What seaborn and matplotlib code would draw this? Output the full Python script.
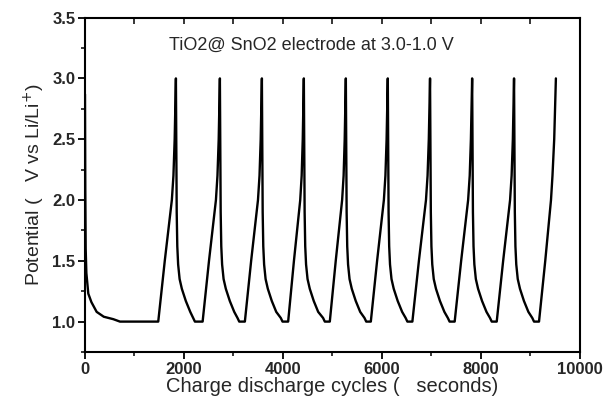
import numpy as np
import pandas as pd
import matplotlib
matplotlib.use("Agg")
import matplotlib.pyplot as plt
import seaborn as sns

# ---- data (time in s, potential in V) ----
first_discharge_t = [0, 6, 14, 28, 67, 130, 236, 380, 572, 707, 1481]
first_discharge_v = [2.87, 2.1, 1.6, 1.4, 1.23, 1.16, 1.08, 1.04, 1.02, 1.0, 1.0]

charge_v = [1.0, 1.5, 2.0, 2.2, 2.5, 3.0]
charge_t = [
    [1481, 1613, 1756, 1788, 1813, 1838],
    [2378, 2507, 2647, 2678, 2703, 2727],
    [3232, 3359, 3497, 3528, 3552, 3576],
    [4107, 4224, 4351, 4380, 4402, 4424],
    [4949, 5069, 5198, 5228, 5250, 5273],
    [5778, 5905, 6042, 6073, 6097, 6121],
    [6618, 6750, 6893, 6925, 6950, 6975],
    [7473, 7604, 7745, 7777, 7801, 7826],
    [8323, 8453, 8593, 8624, 8649, 8673],
    [9178, 9304, 9420, 9450, 9485, 9519],
]

discharge_v = [2.4, 1.9, 1.62, 1.47, 1.35, 1.27, 1.17, 1.08, 1.03, 1.0, 1.0]
discharge_t = [
    [1846, 1854, 1866, 1883, 1913, 1958, 2038, 2128, 2187, 2222, 2378],
    [2735, 2743, 2755, 2772, 2802, 2847, 2927, 3017, 3083, 3118, 3232],
    [3584, 3592, 3604, 3621, 3651, 3696, 3776, 3866, 3958, 3993, 4107],
    [4432, 4440, 4452, 4469, 4499, 4544, 4624, 4714, 4813, 4848, 4949],
    [5281, 5289, 5301, 5318, 5348, 5393, 5473, 5563, 5650, 5685, 5778],
    [6129, 6137, 6149, 6166, 6196, 6241, 6321, 6411, 6482, 6517, 6618],
    [6983, 6991, 7003, 7020, 7050, 7095, 7175, 7265, 7335, 7370, 7473],
    [7834, 7842, 7854, 7871, 7901, 7946, 8026, 8116, 8187, 8222, 8323],
    [8681, 8689, 8701, 8718, 8748, 8793, 8873, 8963, 9042, 9077, 9178],
]

x_ticks = [0, 2000, 4000, 6000, 8000, 10000]
y_ticks = [1.0, 1.5, 2.0, 2.5, 3.0, 3.5]

# ---- assemble the single continuous trace ----
t_all = list(first_discharge_t)
v_all = list(first_discharge_v)
for i, ct in enumerate(charge_t):
    t_all += ct[1:]
    v_all += charge_v[1:]
    if i < len(discharge_t):
        t_all += discharge_t[i]
        v_all += discharge_v
df = pd.DataFrame({"t": t_all, "v": v_all})

sns.set_style("ticks")
plt.rcParams["font.family"] = ["Liberation Sans", "DejaVu Sans"]

fig = plt.figure(figsize=(6.07, 4.00), dpi=100)
ax = fig.add_axes([0.140, 0.12, 0.815, 0.836])

sns.lineplot(data=df, x="t", y="v", sort=False, estimator=None,
             color="black", linewidth=1.7, ax=ax)

ax.set_xlim(0, 10000)
ax.set_ylim(0.75, 3.5)
ax.set_xticks(x_ticks)
ax.set_xticklabels([str(v) for v in x_ticks], fontweight="bold", fontsize=12)
ax.set_xticks([1000, 3000, 5000, 7000, 9000], minor=True)
ax.set_yticks(y_ticks)
ax.set_yticklabels([f"{v:.1f}" for v in y_ticks], fontweight="bold", fontsize=12)
ax.set_yticks([0.75, 1.25, 1.75, 2.25, 2.75, 3.25], minor=True)

ax.tick_params(which="major", direction="out", length=5, width=1.3, color="black", pad=2)
ax.tick_params(which="minor", direction="out", length=3, width=1.1, color="black")

for s in ax.spines.values():
    s.set_color("black")
    s.set_linewidth(1.5)

top = ax.secondary_xaxis("top")
top.set_xticks(list(range(1000, 10000, 1000)))
top.tick_params(direction="in", length=4, width=1.1, labeltop=False, color="black")
top.spines["top"].set_visible(False)

ax.set_xlabel("Charge discharge cycles (   seconds)", fontsize=14.5, labelpad=0)
ax.set_ylabel("Potential (   V vs Li/Li$^{+}$)", fontsize=14, labelpad=4)
ax.text(0.457, 0.917, "TiO2@ SnO2 electrode at 3.0-1.0 V", transform=ax.transAxes,
        ha="center", va="center", fontsize=13)

fig.savefig("out.png", dpi=100)
